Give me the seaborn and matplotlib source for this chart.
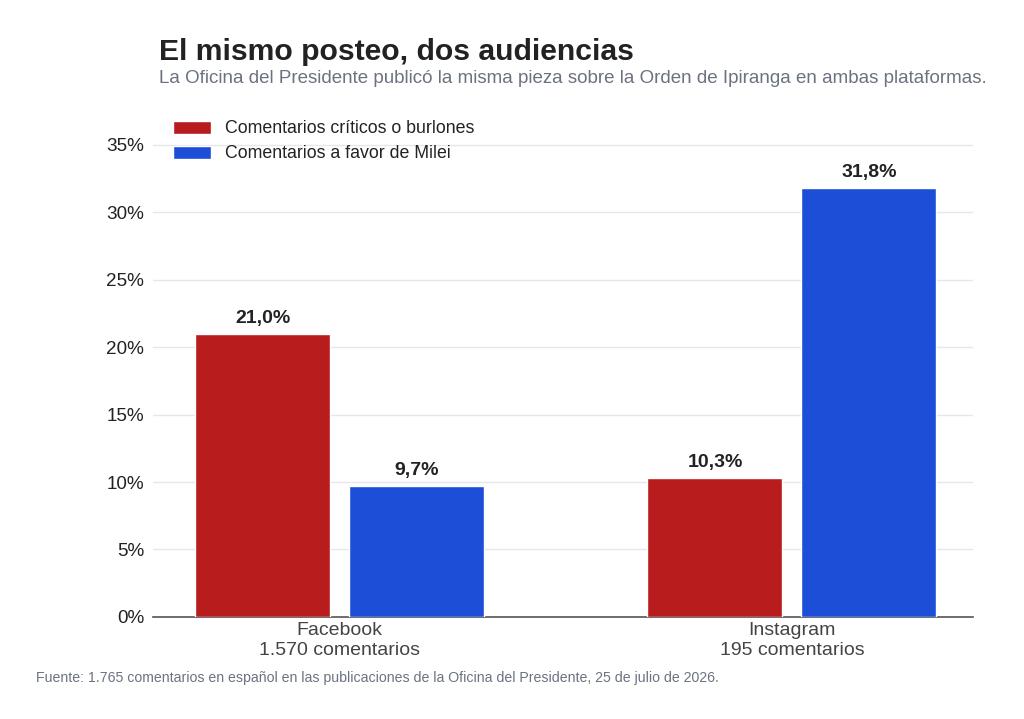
import pandas as pd
import seaborn as sns
from matplotlib import pyplot as plt
from matplotlib.ticker import FuncFormatter

# Datos
plataformas = ["Facebook\n1.570 comentarios", "Instagram\n195 comentarios"]
series = ["Comentarios críticos o burlones", "Comentarios a favor de Milei"]
criticos = [21.0, 10.3]
a_favor = [9.7, 31.8]
etiquetas_y = [0, 5, 10, 15, 20, 25, 30, 35]

colores = ["#B91C1C", "#1D4ED8"]

df = pd.DataFrame({
    "plataforma": plataformas * 2,
    "serie": [series[0]] * 2 + [series[1]] * 2,
    "valor": criticos + a_favor,
})

sns.set_theme(style="white")
plt.rcParams["font.family"] = ["Liberation Sans", "DejaVu Sans"]

fig = plt.figure(figsize=(10.24, 7.19), dpi=100)
ax = fig.add_axes([0.149, 0.142, 0.801, 0.694])

sns.barplot(data=df, x="plataforma", y="valor", hue="serie",
            palette=colores, saturation=1, width=0.681, gap=0.123, ax=ax, zorder=3)

for cont in ax.containers:
    ax.bar_label(cont, labels=[f"{v:.1f}%".replace(".", ",") for v in cont.datavalues],
                 padding=5, fontsize=14, fontweight="bold", color="#222222")

ax.set_xlim(-0.414, 1.40)
ax.set_ylim(0, 37)
ax.set_yticks(etiquetas_y)
ax.yaxis.set_major_formatter(FuncFormatter(lambda v, p: f"{v:.0f}%"))
ax.grid(axis="y", color="#e6e6ee", linewidth=1, zorder=0)
ax.set_axisbelow(True)
for s in ["top", "right", "left"]:
    ax.spines[s].set_visible(False)
ax.spines["bottom"].set_color("#555555")
ax.spines["bottom"].set_linewidth(1.2)
ax.tick_params(axis="y", length=4, color="#333333", labelsize=13.6, labelcolor="#222222", pad=2)
ax.tick_params(axis="x", length=0, labelsize=14, labelcolor="#444444", pad=4)
ax.set_xlabel("")
ax.set_ylabel("")

leg = ax.legend(loc="upper left", bbox_to_anchor=(0.006, 1.027), frameon=False,
                fontsize=12.8, handlelength=2.1, handleheight=0.75, labelspacing=0.45)
for t in leg.get_texts():
    t.set_color("#222222")

fig.text(0.155, 0.917, "El mismo posteo, dos audiencias", fontsize=21.7,
         fontweight="bold", color="#222222")
fig.text(0.155, 0.884, "La Oficina del Presidente publicó la misma pieza sobre la Orden de Ipiranga en ambas plataformas.",
         fontsize=13.5, color="#6b7280")
fig.text(0.035, 0.052, "Fuente: 1.765 comentarios en español en las publicaciones de la Oficina del Presidente, 25 de julio de 2026.",
         fontsize=10.2, color="#6b7280")

fig.savefig("out.png", dpi=100)
